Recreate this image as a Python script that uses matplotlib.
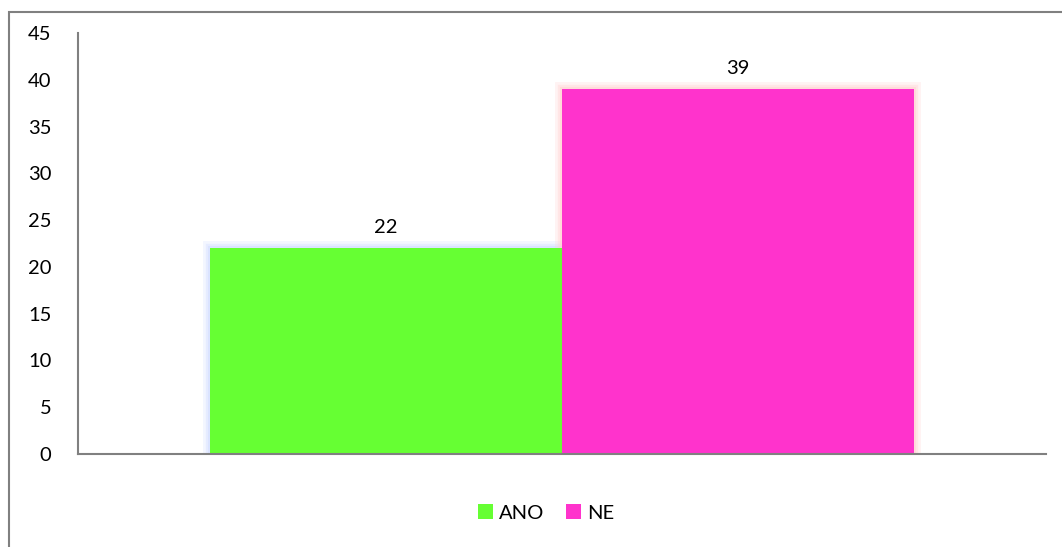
import matplotlib.pyplot as plt
import matplotlib.patheffects as pe
from matplotlib.patches import Rectangle, Patch

plt.rcParams['font.family'] = ['Lato', 'DejaVu Sans']

series = ['ANO', 'NE']
values = [22, 39]
colors = ['#66ff33', '#ff33cc']
glows = ['#d0dcff', '#ffd0d0']
yticks = [0, 5, 10, 15, 20, 25, 30, 35, 40, 45]

fig = plt.figure(figsize=(10.62, 5.47), dpi=100)

# outer chart border (runs off the right/bottom edges like the source)
fig.patches.append(Rectangle((9 / 1062, -0.05), 1.1, 0.05 + 1 - 12 / 547,
                             transform=fig.transFigure, fill=False,
                             edgecolor='#808080', linewidth=1.5))

ax = fig.add_axes([78 / 1062, 1 - 454 / 547, (1046 - 78) / 1062, (454 - 33) / 547])

width = 0.3636
offsets = [-width / 2, width / 2]
for name, val, col, glow, off in zip(series, values, colors, glows, offsets):
    # soft glow drawn underneath, then the bar itself on top
    g = ax.bar(off, val, width, color=glow, zorder=2)
    g[0].set_path_effects([pe.Stroke(linewidth=10, foreground=glow, alpha=0.25),
                           pe.Stroke(linewidth=6, foreground=glow, alpha=0.35),
                           pe.Stroke(linewidth=3, foreground=glow, alpha=0.5)])
    ax.bar(off, val, width, color=col, zorder=3)
    ax.text(off, val + 1.3, str(val), ha='center', va='bottom', fontsize=14.5, color='black')

ax.set_xlim(-0.5, 0.5)
ax.set_ylim(0, 45)
ax.set_yticks(yticks)
ax.set_xticks([])
ax.tick_params(axis='y', length=0, pad=19, labelsize=14.5)
for s in ['top', 'right']:
    ax.spines[s].set_visible(False)
for s in ['left', 'bottom']:
    ax.spines[s].set_color('#808080')
    ax.spines[s].set_linewidth(1.5)
ax.spines['bottom'].set_zorder(4)

handles = [Patch(facecolor=c, label=n) for n, c in zip(series, colors)]
fig.legend(handles=handles, loc='center', bbox_to_anchor=(546 / 1062, 1 - 513 / 547), ncol=2,
           frameon=False, fontsize=14.5, handlelength=0.75, handleheight=0.75,
           handletextpad=0.3, columnspacing=1.1)

fig.savefig('out.png', dpi=100)
